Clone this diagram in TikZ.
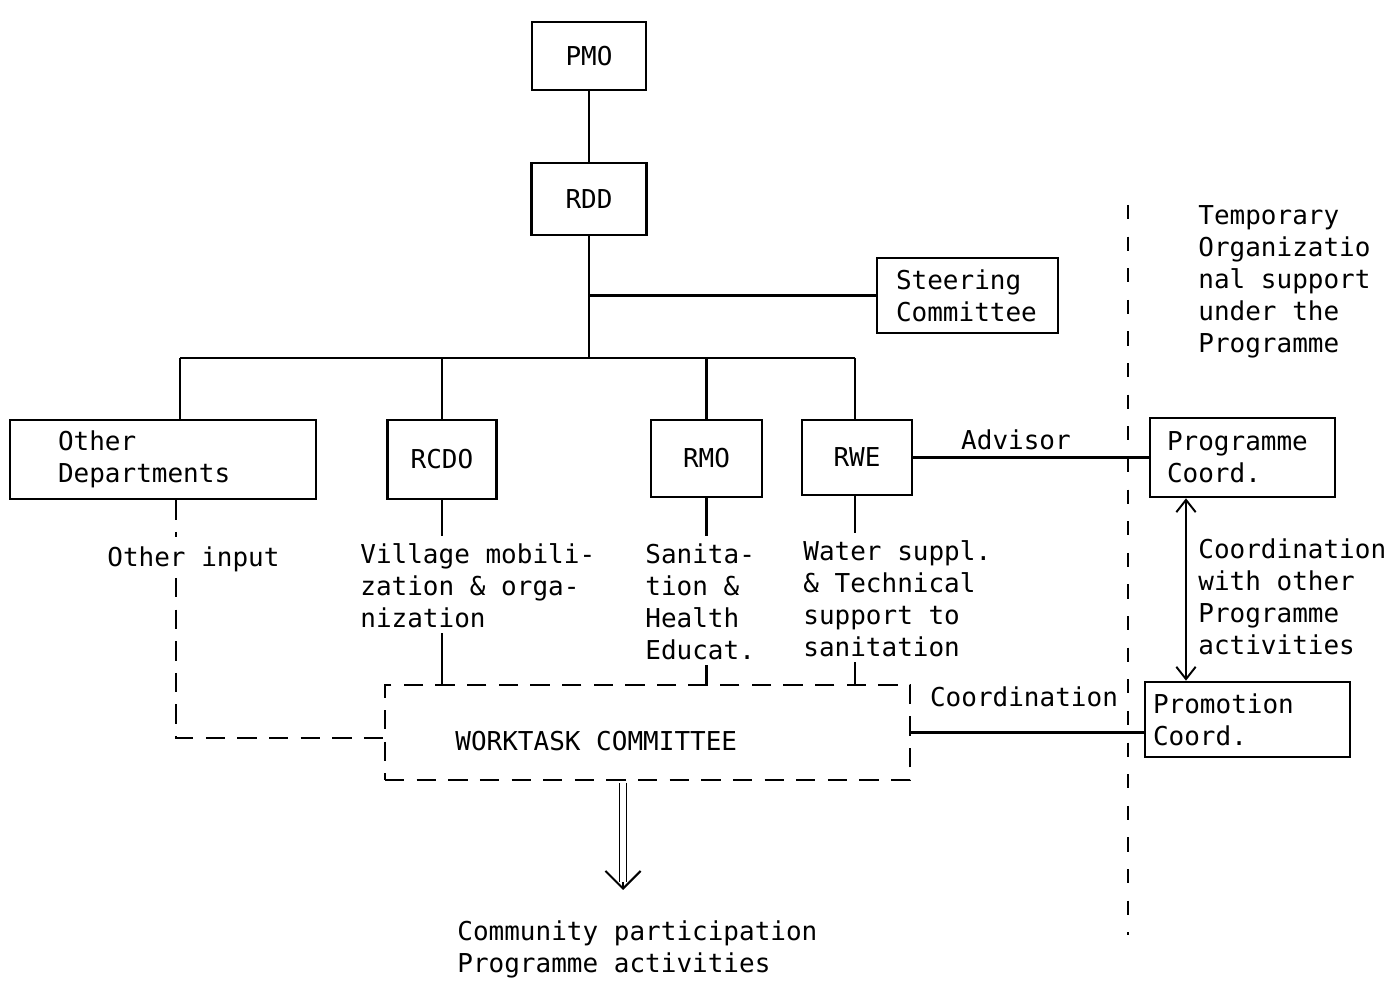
\documentclass[tikz,border=0pt]{standalone}
\usepackage{fontspec}
\setmainfont{DejaVu Sans Mono}
\usetikzlibrary{arrows.meta}
\newcommand\pxu{0.02cm}
\tikzset{
  x=0.02cm, y=-0.02cm,
  every node/.style={font=\fontsize{14.8}{18.2}\selectfont},
  ln/.style={line width=1.2pt},
  boxc/.style={draw, line width=1.5pt, inner sep=0pt, align=center},
  boxl/.style={draw, line width=1.5pt, inner ysep=0pt, align=left},
  txt/.style={anchor=north west, inner sep=0pt, align=left},
  dsh/.style={line width=1.2pt, dash pattern=on 11pt off 7pt},
  dvd/.style={line width=1pt, dash pattern=on 8pt off 10pt},
}
\begin{document}
\begin{tikzpicture}
\useasboundingbox (0,0) rectangle (1384,982);
% boxes
\node[boxc, minimum width=114*\pxu, minimum height=68*\pxu] (PMO) at (589,56) {PMO};
\node[boxc, minimum width=115*\pxu, minimum height=72*\pxu] (RDD) at (589,199) {RDD};
\node[boxl, text width=143*\pxu, inner xsep=19*\pxu, minimum height=75*\pxu] (SC) at (967.5,295.5) {Steering\\Committee};
\node[boxl, text width=210*\pxu, inner xsep=48*\pxu, minimum height=79*\pxu] (OD) at (163,459.5) {Other\\Departments};
\node[boxc, minimum width=109*\pxu, minimum height=79*\pxu] (RCDO) at (442,459.5) {RCDO};
\node[boxc, minimum width=111*\pxu, minimum height=77*\pxu] (RMO) at (706.5,458.5) {RMO};
\node[boxc, minimum width=110*\pxu, minimum height=75*\pxu] (RWE) at (857,457.5) {RWE};
\node[boxl, text width=151*\pxu, inner xsep=17*\pxu, minimum height=79*\pxu] (PC) at (1242.5,457.5) {Programme\\Coord.};
\node[boxl, text width=189*\pxu, inner xsep=8*\pxu, minimum height=75*\pxu] (PR) at (1247.5,719.5) {Promotion\\Coord.};
\node[draw, dsh, minimum width=525*\pxu, minimum height=95*\pxu, inner sep=0pt] (WT) at (647.5,732.5) {};
\node[txt, anchor=west] (WTL) at (455,741) {WORKTASK COMMITTEE};
% texts
\node[txt] (OI) at (107,546) {Other input};
\node[txt] (VM) at (360,543) {Village mobili-\\zation \& orga-\\nization};
\node[txt] (SH) at (645,543) {Sanita-\\tion \&\\Health\\Educat.};
\node[txt] (WS) at (803,540) {Water suppl.\\\& Technical\\support to\\sanitation};
\node[txt] (CW) at (1198,538) {Coordination\\with other\\Programme\\activities};
\node[txt] (TO) at (1198,205) {Temporary\\Organizatio\\nal support\\under the\\Programme};
\node[txt] (CP) at (457,920) {Community participation\\Programme activities};
\node[inner sep=0pt] (ADV) at (1016,440) {Advisor};
\node[inner sep=0pt] (COO) at (1024,697) {Coordination};
% coordinates
\coordinate (busL) at (180,358);
\coordinate (busR) at (855,358);
\coordinate (odx) at (176,738);
\coordinate (oiT) at (176,537);
\coordinate (oiB) at (176,578);
\coordinate (cax) at (1186,600);
\coordinate (dv1) at (1128,205);
\coordinate (dv2) at (1128,935);
\coordinate (arrT) at (623,783);
\coordinate (arrE) at (623,882);
\coordinate (arrH) at (623,890);
% solid connectors
\draw[ln] (PMO.south) -- (RDD.south |- PMO.south) -- (RDD.north);
\draw[ln] (RDD.south) -- (RDD.south |- busL);
\draw[ln] (RDD.south |- SC.west) -- (SC.west);
\draw[ln] (busL) -- (busR);
\draw[ln] (busL) -- (busL |- OD.north);
\draw[ln] (RCDO.north |- busL) -- (RCDO.north);
\draw[ln] (RMO.north |- busL) -- (RMO.north);
\draw[ln] (busR) -- (busR |- RWE.north);
\draw[ln] (RCDO.south) -- ([yshift=4pt]RCDO.south |- VM.north);
\draw[ln] ([yshift=-3pt]RCDO.south |- VM.south) -- (RCDO.south |- WT.north);
\draw[ln] (RMO.south) -- ([yshift=4pt]RMO.south |- SH.north);
\draw[ln] ([yshift=-3pt]RMO.south |- SH.south) -- (RMO.south |- WT.north);
\draw[ln] (busR |- RWE.south) -- ([yshift=4pt]busR |- WS.north);
\draw[ln] ([yshift=-3pt]busR |- WS.south) -- (busR |- WT.north);
\draw[ln] (RWE.east) -- (RWE.east -| PC.west);
\draw[ln] (WT.east) -- (WT.east -| PR.west);
\draw[line width=1.1pt, {Straight Barb[length=7pt,width=11pt]}-{Straight Barb[length=7pt,width=11pt]}] (PC.south -| cax) -- (PR.north -| cax);
% dashed connectors
\draw[dsh] (OD.south -| odx) -- (oiT);
\draw[dsh] (oiB) -- (odx) -- (WT.west |- odx);
\draw[dvd] (dv1) -- (dv2);
% output arrow
\draw[line width=0.9pt, double distance=3pt] (arrT) -- (arrE);
\draw[line width=1.2pt, -{Straight Barb[length=10pt,width=20pt]}] (arrE) -- (arrH);
\end{tikzpicture}
\end{document}
